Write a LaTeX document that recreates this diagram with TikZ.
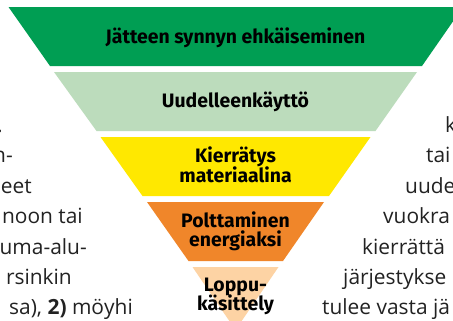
\documentclass[tikz,border=0pt]{standalone}
\usepackage{fontspec}
\setmainfont{Fira Sans}
\newfontfamily\sidefont{Open Sans}
\definecolor{gA}{HTML}{009E53}
\definecolor{gB}{HTML}{BCDCBC}
\definecolor{yC}{HTML}{FFE800}
\definecolor{oD}{HTML}{F0862A}
\definecolor{pE}{HTML}{FDD3A4}
\definecolor{txt}{HTML}{222222}
\tikzset{
  lbl/.style={font=\fontsize{19.5}{19.5}\selectfont\bfseries, text=black, align=center, inner sep=0pt, anchor=base},
  side/.style={font=\sidefont\fontsize{21}{22}\selectfont, text=txt, inner sep=0pt},
}
\begin{document}
\begin{tikzpicture}[x=1bp,y=-1bp]
\useasboundingbox (0,0) rectangle (453,320);
\clip (0,0) rectangle (453,320);
\fill[white] (0,0) rectangle (453,320);
% bands
\fill[gA] (8.5,7) -- (463,7) -- (422,66) -- (50,66) -- cycle;
\fill[gB] (54,72) -- (417,72) -- (375.5,131) -- (96.5,131) -- cycle;
\fill[yC] (100.5,137) -- (370.5,137) -- (329,196) -- (142.5,196) -- cycle;
\fill[oD] (147,202) -- (324,202) -- (283,261) -- (188.5,261) -- cycle;
\fill[pE] (192.5,267) -- (278.5,267) -- (235.5,330) -- cycle;
% labels
\node[lbl] (l1) at (235.5,43) {Jätteen synnyn ehkäiseminen};
\node[lbl] (l2) at (235.5,107) {Uudelleenkäyttö};
\node[lbl] (l3a) at (235.5,162) {Kierrätys};
\node[lbl] (l3b) at (235.5,182) {materiaalina};
\node[lbl] (l4a) at (235.5,227) {Polttaminen};
\node[lbl] (l4b) at (235.5,246) {energiaksi};
\node[lbl] (l5a) at (235.5,291) {Loppu-};
\node[lbl] (l5b) at (235.5,310) {käsittely};
% left side text
\node[side, anchor=base east] (a1) at (3,132) {.};
\node[side, anchor=base east] (a2) at (13,162.5) {n-};
\node[side, anchor=base east] (a3) at (32,193) {eet};
\node[side, anchor=base east] (a4) at (83,223.5) {noon tai};
\node[side, anchor=base east] (a5) at (87,254) {uma-alu-};
\node[side, anchor=base east] (a6) at (72,284) {rsinkin};
\node[side, anchor=base east] (a7) at (133,314) {sa), \textbf{2)} möyhi};
% right side text
\node[side, anchor=base west] (b1) at (445,132) {k};
\node[side, anchor=base west] (b2) at (426,162.5) {tai};
\node[side, anchor=base west] (b3) at (405,193) {uude};
\node[side, anchor=base west] (b4) at (383,223.5) {vuokra};
\node[side, anchor=base west] (b5) at (362,254) {kierrättä};
\node[side, anchor=base west] (b6) at (343,284) {järjestykse};
\node[side, anchor=base west] (b7) at (322,314) {tulee vasta jä};
\end{tikzpicture}
\end{document}
